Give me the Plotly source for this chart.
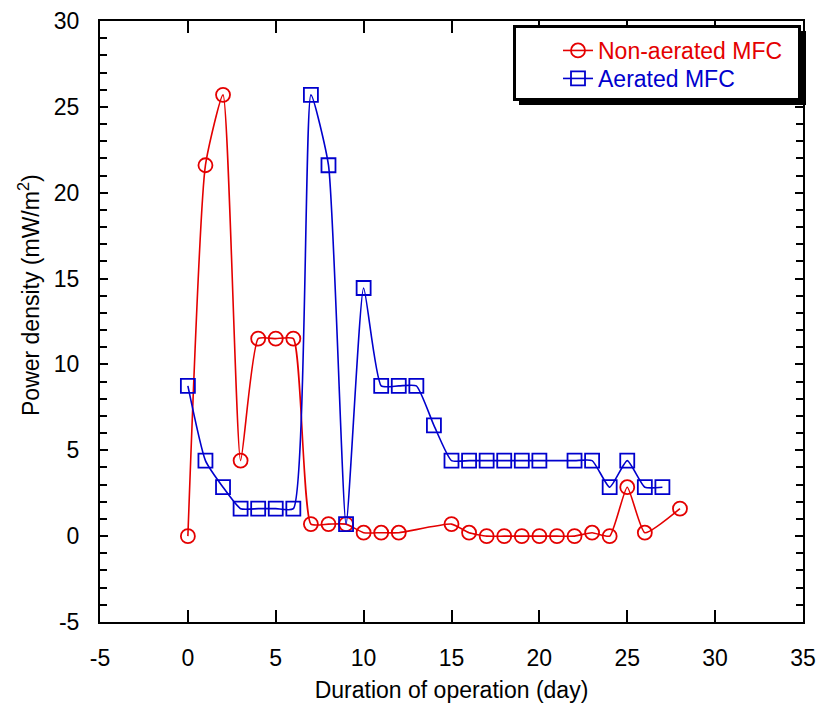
import plotly.graph_objects as go

# Data
non_aer_day = [0, 1, 2, 3, 4, 5, 6, 7, 8, 9, 10, 11, 12, 15, 16, 17, 18, 19, 20, 21, 22, 23, 24, 25, 26, 28]
non_aer_pd = [0.0, 21.6, 25.7, 4.4, 11.5, 11.5, 11.5, 0.7, 0.7, 0.7, 0.2, 0.2, 0.2, 0.7, 0.2, 0.0, 0.0, 0.0, 0.0, 0.0, 0.0, 0.2, 0.0, 2.85, 0.2, 1.6]

aer_day = [0, 1, 2, 3, 4, 5, 6, 7, 8, 9, 10, 11, 12, 13, 14, 15, 16, 17, 18, 19, 20, 22, 23, 24, 25, 26, 27]
aer_pd = [8.75, 4.4, 2.85, 1.6, 1.6, 1.6, 1.6, 25.7, 21.6, 0.7, 14.45, 8.75, 8.75, 8.75, 6.45, 4.4, 4.4, 4.4, 4.4, 4.4, 4.4, 4.4, 4.4, 2.85, 4.4, 2.85, 2.85]

series_names = ["Non-aerated MFC", "Aerated MFC"]
x_ticks = [-5, 0, 5, 10, 15, 20, 25, 30, 35]
y_ticks = [-5, 0, 5, 10, 15, 20, 25, 30]
x_title = "Duration of operation (day)"
y_title = "Power density (mW/m<sup>2</sup>)"

RED = "rgb(228,0,0)"
BLUE = "rgb(0,0,205)"
FONT = "Arial, Liberation Sans, sans-serif"

W, H = 817, 707
L, R, T, B = 100, 803, 21, 622


def px(xp):
    return (xp - L) / (R - L)


def py(yp):
    return (B - yp) / (B - T)


fig = go.Figure()
fig.add_trace(go.Scatter(
    x=non_aer_day, y=non_aer_pd, mode="lines+markers",
    name=f"<span style='color:{RED}'>{series_names[0]}</span>",
    line=dict(color=RED, width=1.6, shape="spline", smoothing=0.5),
    marker=dict(symbol="circle-open", size=14, color=RED, line=dict(width=1.8, color=RED)),
    legend="legend",
))
fig.add_trace(go.Scatter(
    x=aer_day, y=aer_pd, mode="lines+markers",
    name=f"<span style='color:{BLUE}'>{series_names[1]}</span>",
    line=dict(color=BLUE, width=1.6, shape="spline", smoothing=0.5),
    marker=dict(symbol="square-open", size=14, color=BLUE, line=dict(width=1.8, color=BLUE)),
    legend="legend2",
))

# legend box with drop shadow
fig.add_shape(type="rect", xref="paper", yref="paper",
              x0=px(519), x1=px(806), y0=py(105), y1=py(31),
              fillcolor="black", line=dict(width=0), layer="above")
fig.add_shape(type="rect", xref="paper", yref="paper",
              x0=px(514.5), x1=px(799.5), y0=py(99.5), y1=py(26.5),
              fillcolor="white", line=dict(width=3, color="black"), layer="above")

# y-axis title as annotation (placed like the reference)
fig.add_annotation(xref="paper", yref="paper", x=px(29), y=py(295),
                   text=y_title, textangle=-90, showarrow=False,
                   font=dict(family=FONT, size=23, color="black"),
                   xanchor="center", yanchor="middle")

leg_common = dict(xanchor="left", yanchor="top", bgcolor="rgba(0,0,0,0)",
                  borderwidth=0, font=dict(family=FONT, size=23), itemwidth=30)

fig.update_layout(
    width=W, height=H,
    margin=dict(l=L, r=W - R, t=T, b=H - B, autoexpand=False),
    paper_bgcolor="white", plot_bgcolor="white",
    font=dict(family=FONT, size=22, color="black"),
    showlegend=True,
    legend=dict(x=px(558), y=py(29), **leg_common),
    legend2=dict(x=px(558), y=py(57), **leg_common),
    xaxis=dict(
        range=[-5, 35], tickvals=x_ticks, ticktext=[str(v) for v in x_ticks],
        showline=True, linecolor="black", linewidth=2, mirror="ticks",
        ticks="inside", ticklen=12, tickwidth=2, tickcolor="black",
        showgrid=False, zeroline=False, automargin=False,
        tickfont=dict(size=23), ticklabelstandoff=14,
        title=dict(text=x_title, font=dict(size=23), standoff=12),
    ),
    yaxis=dict(
        range=[-5, 30], tickvals=y_ticks, ticktext=[str(v) for v in y_ticks],
        showline=True, linecolor="black", linewidth=2, mirror="ticks",
        ticks="inside", ticklen=8, tickwidth=2, tickcolor="black",
        minor=dict(dtick=1, ticks="inside", ticklen=7, tickwidth=2, tickcolor="black", showgrid=False),
        showgrid=False, zeroline=False, automargin=False,
        tickfont=dict(size=23), ticklabelstandoff=14,
    ),
)

fig.write_html("out.html", config={"displayModeBar": False},
               post_script="document.body.style.margin='0';document.body.style.padding='0';document.documentElement.style.overflow='hidden';")
